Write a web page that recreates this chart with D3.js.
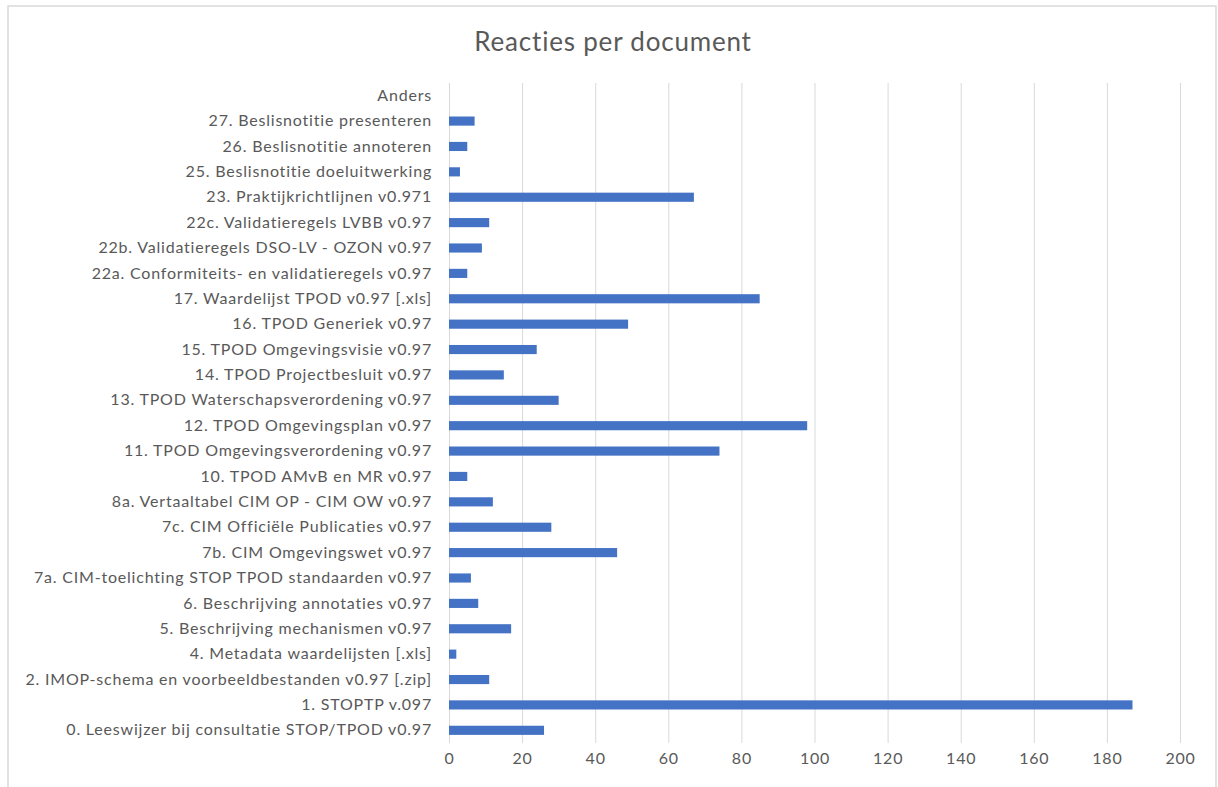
<!DOCTYPE html>
<html>
<head>
<style>
  body {
    margin: 0;
    background-color: #ffffff;
  }

  svg {
    display: block;
  }

  .label {
    font-family: Lato, 'Open Sans', sans-serif;
    font-size: 16px;
    letter-spacing: 0.8px;
    fill: #595959;
  }

  .title {
    font-family: Lato, 'Open Sans', sans-serif;
    font-size: 26px;
    letter-spacing: 0.8px;
    fill: #595959;
  }
</style>
  <script src="https://d3js.org/d3.v7.min.js"></script>
</head>
<body>
<script>
  // documents, top to bottom as they appear in the chart
  const documents = [
    'Anders',
    '27. Beslisnotitie presenteren',
    '26. Beslisnotitie annoteren',
    '25. Beslisnotitie doeluitwerking',
    '23. Praktijkrichtlijnen v0.971',
    '22c. Validatieregels LVBB v0.97',
    '22b. Validatieregels DSO-LV - OZON v0.97',
    '22a. Conformiteits- en validatieregels v0.97',
    '17. Waardelijst TPOD v0.97 [.xls]',
    '16. TPOD Generiek v0.97',
    '15. TPOD Omgevingsvisie v0.97',
    '14. TPOD Projectbesluit v0.97',
    '13. TPOD Waterschapsverordening v0.97',
    '12. TPOD Omgevingsplan v0.97',
    '11. TPOD Omgevingsverordening v0.97',
    '10. TPOD AMvB en MR v0.97',
    '8a. Vertaaltabel CIM OP - CIM OW v0.97',
    '7c. CIM Officiële Publicaties v0.97',
    '7b. CIM Omgevingswet v0.97',
    '7a. CIM-toelichting STOP TPOD standaarden v0.97',
    '6. Beschrijving annotaties v0.97',
    '5. Beschrijving mechanismen v0.97',
    '4. Metadata waardelijsten [.xls]',
    '2. IMOP-schema en voorbeeldbestanden v0.97 [.zip]',
    '1. STOPTP v.097',
    '0. Leeswijzer bij consultatie STOP/TPOD v0.97',
  ];

  const reacties = [
    0, 7, 5, 3, 67, 11, 9, 5, 85, 49, 24, 15, 30, 98, 74, 5, 12, 28, 46, 6, 8, 17, 2, 11, 187, 26,
  ];

  const xTicks = [0, 20, 40, 60, 80, 100, 120, 140, 160, 180, 200];

  const chartTitle = 'Reacties per document';

  const width = 1218;
  const height = 787;

  const plot = {
    left: 449,
    right: 1180,
    top: 83,
    bottom: 743,
  };

  const colors = {
    bar: '#4472c4',
    grid: '#d9d9d9',
    border: '#d9d9d9',
    text: '#595959',
  };

  const svg = d3.select('body')
    .append('svg')
    .attr('width', width)
    .attr('height', height);

  // chart frame
  svg.append('rect')
    .attr('x', 8)
    .attr('y', 6)
    .attr('width', 1208)
    .attr('height', 790)
    .attr('fill', '#ffffff')
    .attr('stroke', colors.border)
    .attr('stroke-width', 1.5);

  svg.append('text')
    .attr('class', 'title')
    .attr('x', 613)
    .attr('y', 51)
    .attr('text-anchor', 'middle')
    .text(chartTitle);

  const x = d3.scaleLinear()
    .domain([0, 200])
    .range([plot.left, plot.right]);

  const y = d3.scaleBand()
    .domain(documents)
    .range([plot.top, plot.bottom])
    .paddingInner(0.64)
    .paddingOuter(0.32);

  // vertical grid lines
  svg.append('g')
    .selectAll('line')
    .data(xTicks)
    .join('line')
      .attr('x1', d => x(d) + 0.5)
      .attr('x2', d => x(d) + 0.5)
      .attr('y1', plot.top)
      .attr('y2', plot.bottom)
      .attr('stroke', colors.grid)
      .attr('stroke-width', 1);

  // bars
  svg.append('g')
    .selectAll('rect')
    .data(documents)
    .join('rect')
      .attr('x', x(0))
      .attr('y', d => y(d))
      .attr('width', (d, i) => x(reacties[i]) - x(0))
      .attr('height', y.bandwidth())
      .attr('fill', colors.bar);

  // category axis
  const yAxis = svg.append('g')
    .attr('transform', `translate(${plot.left},0)`)
    .call(d3.axisLeft(y).tickSize(0).tickPadding(17));

  yAxis.select('.domain').remove();
  yAxis.selectAll('text')
    .attr('class', 'label')
    .attr('fill', null);

  // value axis
  const xAxis = svg.append('g')
    .attr('transform', `translate(0,${plot.bottom})`)
    .call(d3.axisBottom(x).tickValues(xTicks).tickSize(0).tickPadding(10));

  xAxis.select('.domain').remove();
  xAxis.selectAll('text')
    .attr('class', 'label')
    .attr('fill', null);
</script>
</body>
</html>
